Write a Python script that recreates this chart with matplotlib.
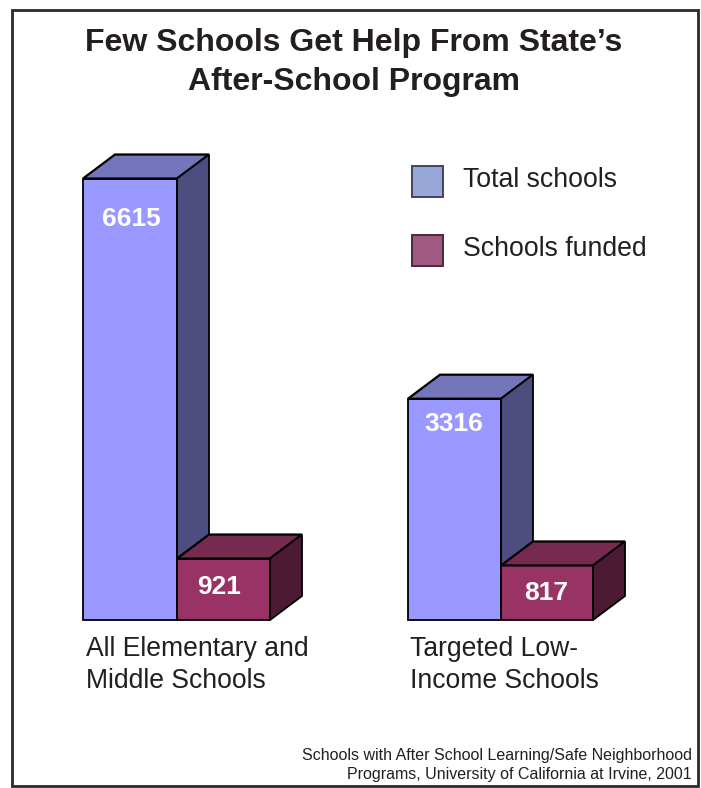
import matplotlib.pyplot as plt
from matplotlib.patches import Rectangle

plt.rcParams['font.family'] = ['Liberation Sans', 'DejaVu Sans']

title = 'Few Schools Get Help From State\u2019s\nAfter-School Program'
categories = ['All Elementary and\nMiddle Schools', 'Targeted Low-\nIncome Schools']
total_schools = [6615, 3316]
schools_funded = [921, 817]
legend_labels = ['Total schools', 'Schools funded']
source = ('Schools with After School Learning/Safe Neighborhood\n'
          'Programs, University of California at Irvine, 2001')

W, H = 701, 788
BASE_PX = 620
PX_PER_SCHOOL = 0.06674
DX, DY = 32, 24

BLUE = ('#9999FF', '#7575BB', '#4D4D7F')
PLUM = ('#993366', '#772A50', '#4D1A33')
INK = '#231F20'

fig = plt.figure(figsize=(W / 100, H / 100), dpi=100)
ax = fig.add_axes([0, 0, 1, 1])
ax.set_xlim(0, W)
# y axis is in schools, with the baseline at 0
ax.set_ylim((BASE_PX - H) / PX_PER_SCHOOL, BASE_PX / PX_PER_SCHOOL)
ax.axis('off')


def px_text(x, y, s, **kw):
    return fig.text(x / W, 1 - y / H, s, **kw)


def bar3d(x0, x1, value, colors, zorder):
    # front face, lid and right side of one box
    dy = DY / PX_PER_SCHOOL
    ax.fill([x0, x0, x1, x1], [0, value, value, 0], fc=colors[0], ec='black',
            lw=1.3, joinstyle='miter', zorder=zorder)
    ax.fill([x0, x0 + DX, x1 + DX, x1], [value, value + dy, value + dy, value],
            fc=colors[1], ec='black', lw=1.6, joinstyle='miter', zorder=zorder)
    ax.fill([x1, x1 + DX, x1 + DX, x1], [0, dy, value + dy, value],
            fc=colors[2], ec='black', lw=1.3, joinstyle='miter', zorder=zorder)


# outer frame
fig.add_artist(Rectangle((11.5 / W, 1 - 786 / H), 686.5 / W, 776.5 / H, transform=fig.transFigure,
                         fc='white', ec='#2A2A2A', lw=2.0, zorder=-1))

bar_left = [83, 408]
bar_width = [94, 93]
funded_width = [93, 92]
label_y = [219, 424]
funded_y = [587, 593]
cat_x = [86, 410]
funded_shift = [-4, -1]

for i in range(2):
    x0 = bar_left[i]
    x1 = x0 + bar_width[i]
    x2 = x1 + funded_width[i]
    bar3d(x0, x1, total_schools[i], BLUE, 2)
    bar3d(x1, x2, schools_funded[i], PLUM, 3)
    px_text((x0 + x1) / 2 + (1 if i == 0 else -1), label_y[i], str(total_schools[i]), color='white',
            fontsize=19, fontweight='bold', ha='center', va='center', zorder=5)
    px_text((x1 + x2) / 2 + funded_shift[i], funded_y[i], str(schools_funded[i]), color='white',
            fontsize=19, fontweight='bold', ha='center', va='center', zorder=5)
    px_text(cat_x[i], 665, categories[i], color=INK, fontsize=19.1, ha='left', va='center',
            linespacing=1.33)

px_text(354, 62.5, title, color=INK, fontsize=23, fontweight='bold', ha='center', va='center',
        linespacing=1.41)

# legend swatches and their labels
for y, fc, ec, label in zip([166, 235], ['#97A8D8', '#9E5A80'], ['#3F4560', '#4A2A3C'], legend_labels):
    fig.add_artist(Rectangle((411.5 / W, 1 - (y + 31) / H), 31 / W, 31 / H, transform=fig.transFigure,
                             fc=fc, ec=ec, lw=1.4))
    px_text(463, y + 14, label, color=INK, fontsize=19.2, ha='left', va='center')

px_text(692, 765, source, color=INK, fontsize=11.5, ha='right', va='center', linespacing=1.29)

fig.savefig('out.png', dpi=100)
